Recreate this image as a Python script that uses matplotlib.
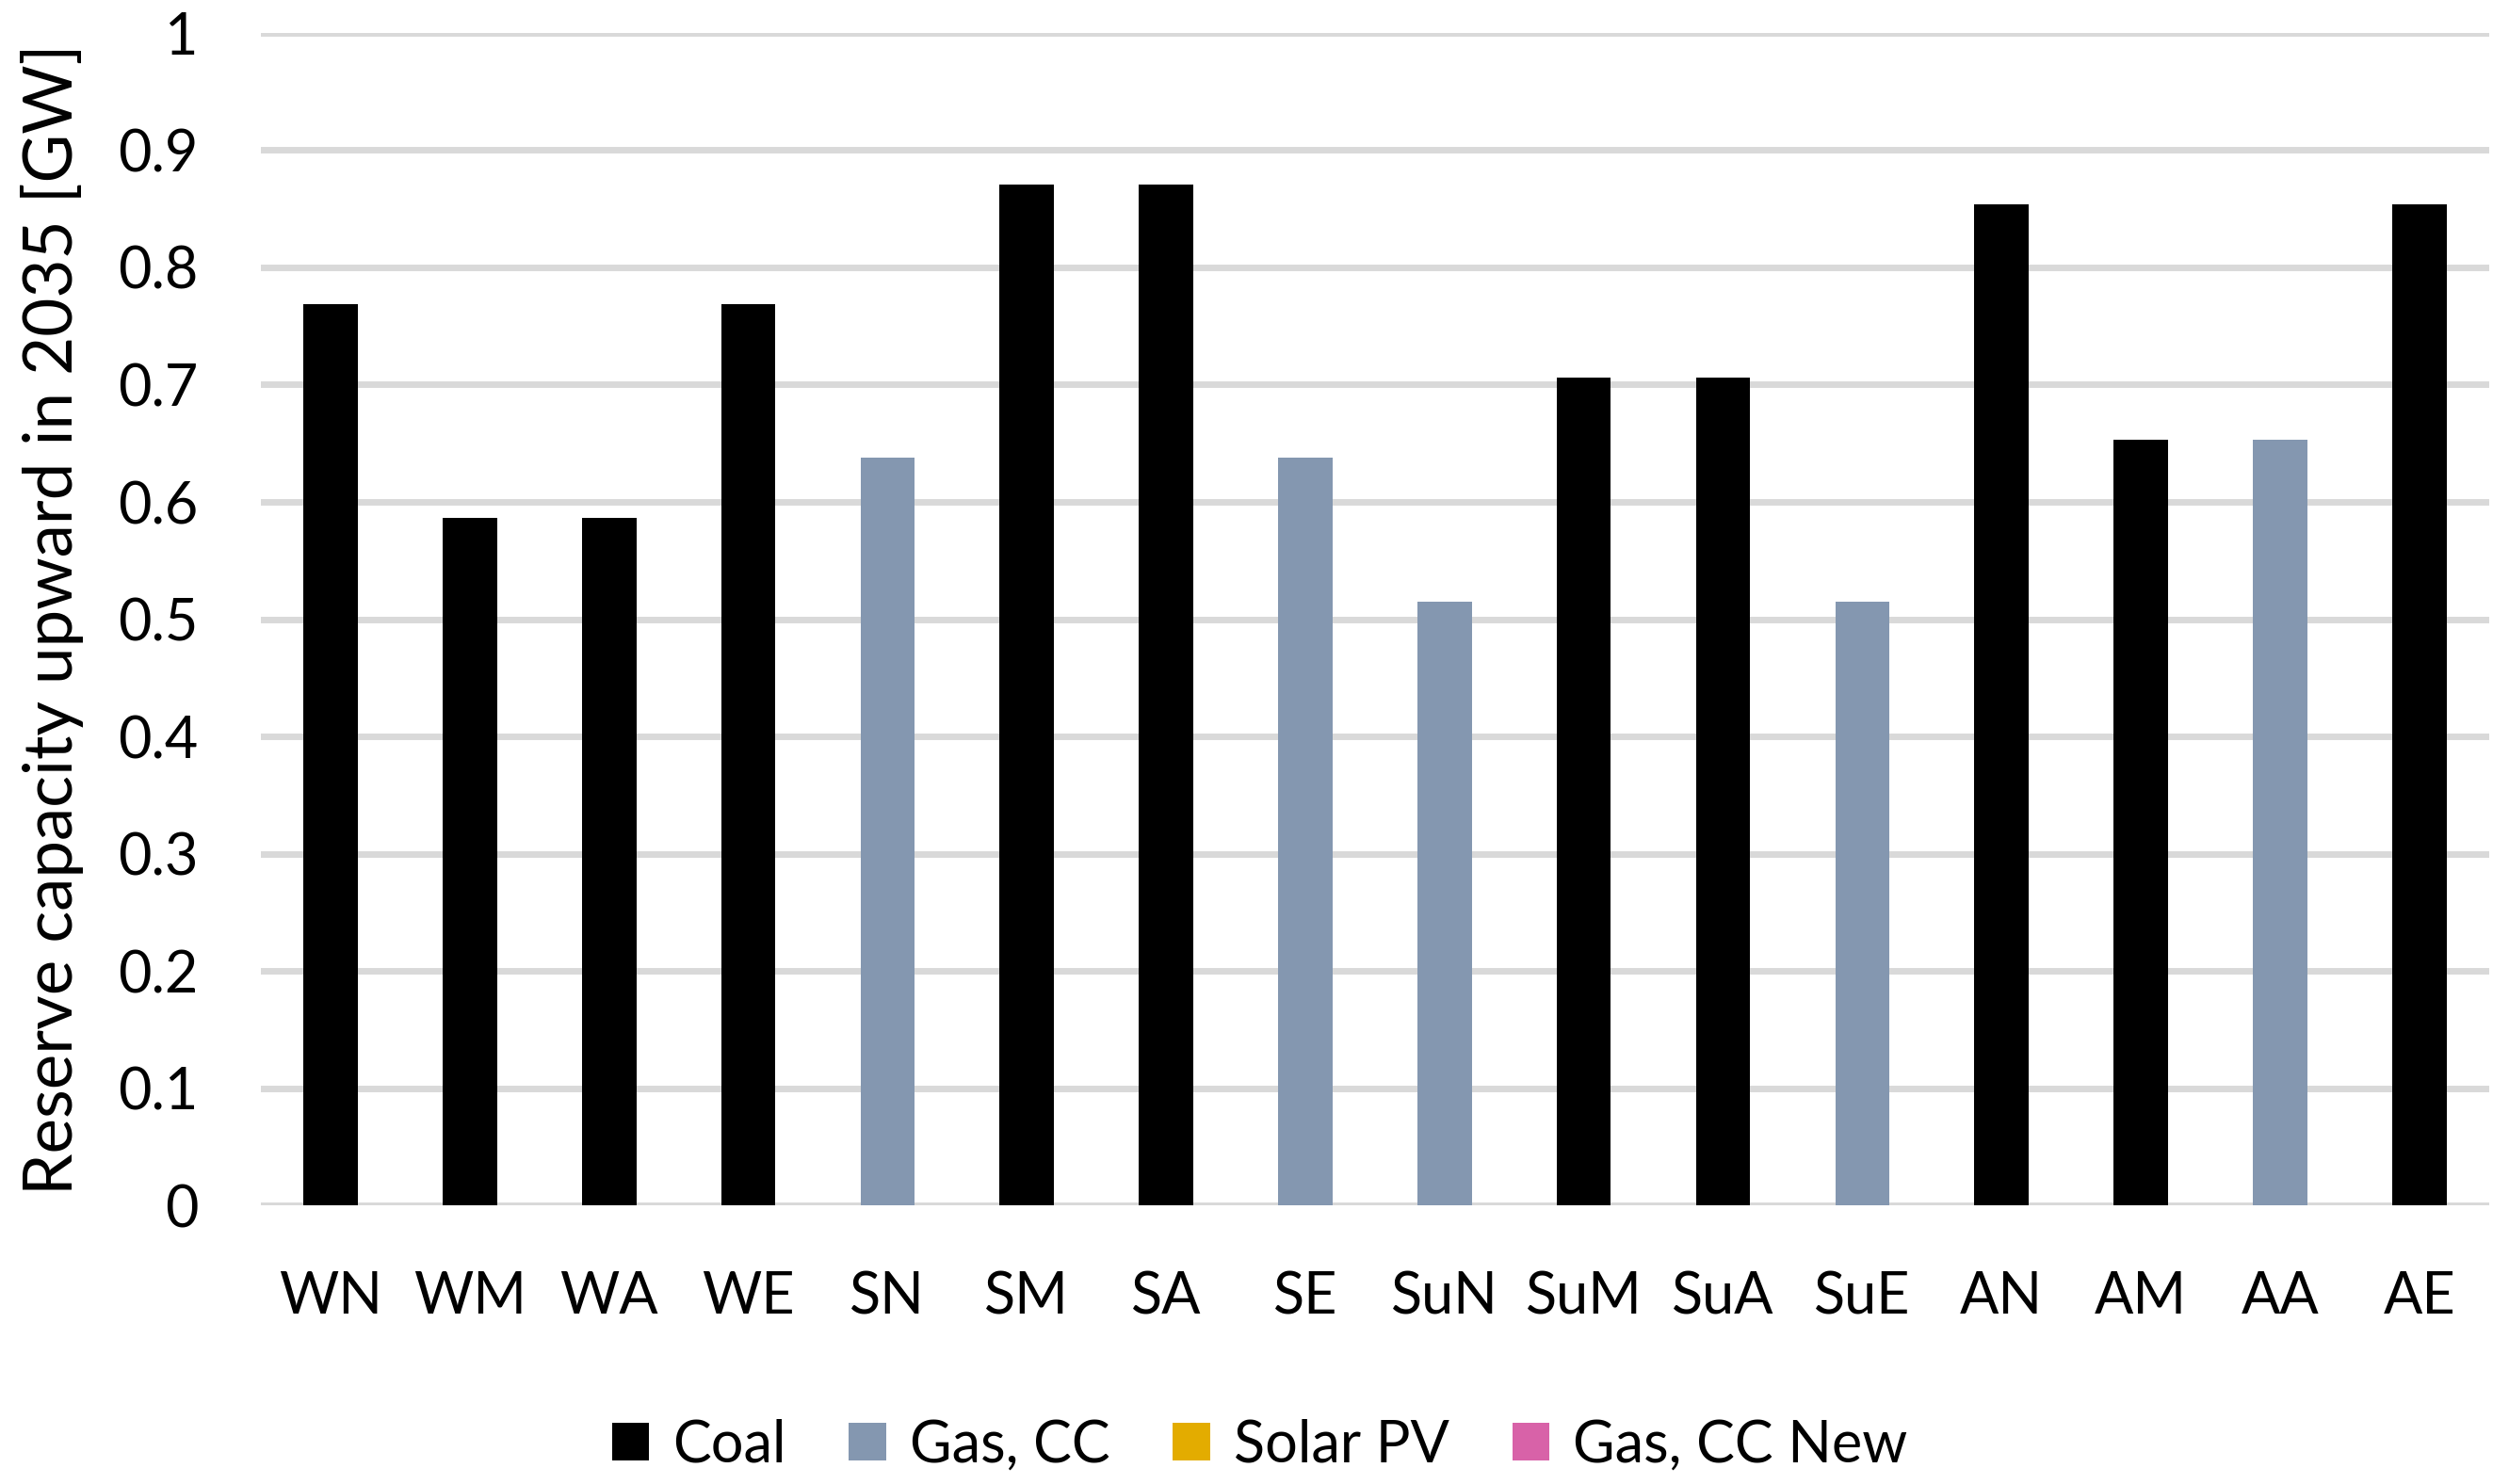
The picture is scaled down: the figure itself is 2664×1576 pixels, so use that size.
#! /usr/bin/env python

import matplotlib
matplotlib.use('Agg')

import matplotlib.pyplot as plt
import numpy as np

seasons = ['WN', 'WM', 'WA', 'WE', 'SN', 'SM', 'SA', 'SE',
           'SuN', 'SuM', 'SuA', 'SuE', 'AN', 'AM', 'AA', 'AE']

coal = [0.769, 0.586, 0.586, 0.769, 0, 0.871, 0.871, 0,
        0, 0.706, 0.706, 0, 0.854, 0.653, 0, 0.854]
gas_cc = [0, 0, 0, 0, 0.638, 0, 0, 0.638,
          0.515, 0, 0, 0.515, 0, 0, 0.653, 0]
solar_pv = [0] * 16
gas_cc_new = [0] * 16

series_names = ['Coal', 'Gas, CC', 'Solar PV', 'Gas, CC New']
series_colors = ['#000000', '#8497B0', '#E3AC00', '#D862A8']


def main():
    plt.rcParams['font.family'] = ['Lato', 'DejaVu Sans']

    fig = plt.figure(figsize=(26.64, 15.76), dpi=100)
    ax = fig.add_axes([0.104, 0.1878, 0.888, 0.79])

    x = np.arange(len(seasons))
    bottom = np.zeros(len(seasons))
    for name, vals, col in zip(series_names,
                               [coal, gas_cc, solar_pv, gas_cc_new],
                               series_colors):
        vals = np.array(vals, dtype=float)
        ax.bar(x, vals, 0.39, bottom=bottom, color=col, label=name, zorder=3)
        bottom += vals

    ax.set_xlim(-0.5, len(seasons) - 0.5)
    ax.set_ylim(0, 1)
    ax.set_yticks(np.arange(0, 1.01, 0.1))
    ax.set_yticklabels(['0'] + ['%.1f' % v for v in np.arange(0.1, 0.95, 0.1)] + ['1'])
    ax.set_xticks(x)
    ax.set_xticklabels(seasons)
    ax.yaxis.grid(True, color='#D9D9D9', linewidth=5, zorder=0)
    ax.set_axisbelow(True)
    for s in ax.spines.values():
        s.set_visible(False)
    ax.tick_params(axis='both', length=0, labelsize=44)
    ax.tick_params(axis='x', pad=50)
    ax.tick_params(axis='y', pad=48)
    ax.set_ylabel('Reserve capacity upward in 2035 [GW]', fontsize=51, labelpad=26)

    fig.legend(loc='center', bbox_to_anchor=(0.502, 0.026), ncol=4, frameon=False,
               fontsize=44, handlelength=0.65, handleheight=0.65, handletextpad=0.4,
               columnspacing=1.1)

    fig.savefig('out.png')


if __name__ == '__main__':
    main()
